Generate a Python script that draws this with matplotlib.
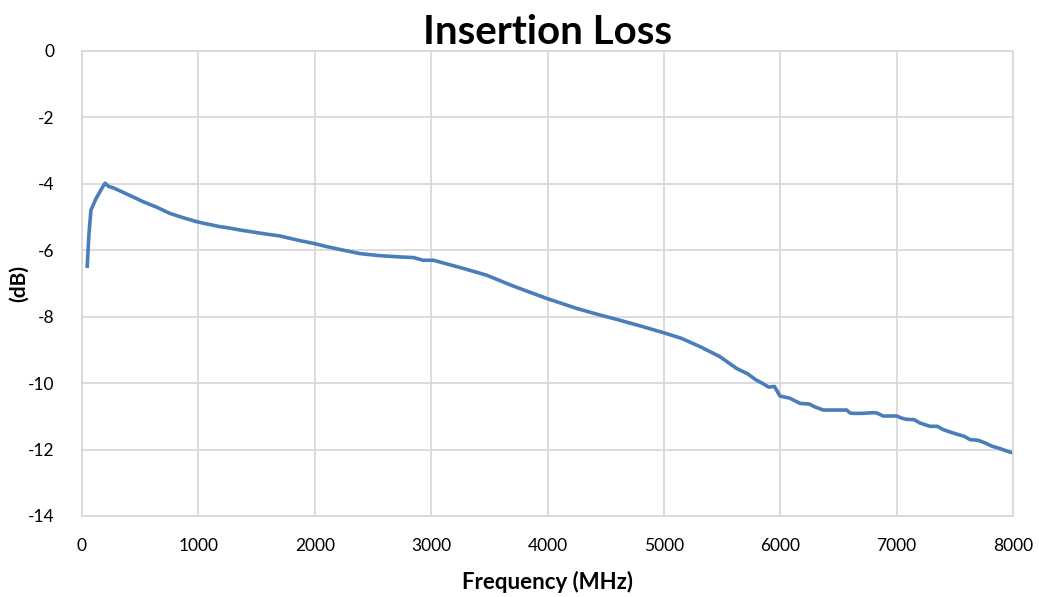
import matplotlib.pyplot as plt

plt.rcParams['font.family'] = ['Lato', 'DejaVu Sans']
plt.rcParams['axes.unicode_minus'] = False

freq = [45, 60, 77, 120, 160, 198, 230, 269, 350, 430, 527, 640, 756, 870, 985,
        1090, 1186, 1250, 1358, 1450, 1560, 1701, 1873, 2000, 2102, 2250, 2389,
        2550, 2732, 2850, 2930, 3020, 3102, 3250, 3477, 3700, 3993, 4250, 4451,
        4562, 4800, 4995, 5150, 5310, 5480, 5626, 5720, 5790, 5854, 5900, 5950,
        5998, 6080, 6170, 6250, 6300, 6370, 6450, 6571, 6600, 6626, 6700, 6800,
        6830, 6885, 6950, 7000, 7040, 7085, 7150, 7200, 7286, 7350, 7400, 7458,
        7530, 7580, 7630, 7700, 7760, 7820, 7888, 7950, 8000]
loss = [-6.48, -5.5, -4.79, -4.45, -4.2, -3.98, -4.08, -4.12, -4.25, -4.38,
        -4.54, -4.7, -4.89, -5.02, -5.14, -5.22, -5.29, -5.32, -5.39, -5.44,
        -5.5, -5.57, -5.71, -5.8, -5.89, -6.0, -6.1, -6.16, -6.2, -6.22, -6.3,
        -6.3, -6.38, -6.52, -6.75, -7.07, -7.45, -7.75, -7.95, -8.05, -8.28,
        -8.48, -8.65, -8.9, -9.2, -9.56, -9.72, -9.9, -10.02, -10.12, -10.1,
        -10.39, -10.45, -10.61, -10.63, -10.72, -10.81, -10.81, -10.81, -10.9,
        -10.91, -10.91, -10.89, -10.9, -10.99, -10.99, -10.99, -11.05, -11.09,
        -11.1, -11.2, -11.3, -11.3, -11.4, -11.47, -11.55, -11.6, -11.7, -11.72,
        -11.8, -11.9, -11.97, -12.05, -12.1]

xticks = list(range(0, 8001, 1000))
yticks = list(range(-14, 1, 2))

fig = plt.figure(figsize=(10.39, 5.97), dpi=100)
ax = fig.add_axes([0.0789, 0.1357, 0.8961, 0.7789])

ax.plot(freq, loss, color='#4a7ebb', linewidth=2.6, solid_joinstyle='round')

ax.set_xlim(0, 8000)
ax.set_ylim(-14, 0)
ax.set_xticks(xticks)
ax.set_yticks(yticks)
ax.grid(True, color='#d9d9d9', linewidth=1.3)
ax.set_axisbelow(True)
for s in ax.spines.values():
    s.set_color('#d9d9d9')
    s.set_linewidth(1.3)
ax.tick_params(length=0, labelsize=12.5)
ax.tick_params(axis='x', pad=16)
ax.tick_params(axis='y', pad=20)

ax.set_title('Insertion Loss', fontsize=29, fontweight='bold', pad=4)
ax.set_xlabel('Frequency (MHz)', fontsize=16, fontweight='bold', labelpad=12)
ax.set_ylabel('(dB)', fontsize=15, fontweight='bold')
ax.yaxis.set_label_coords(-0.057, 0.5)

fig.savefig('out.png', dpi=100, facecolor='white')
